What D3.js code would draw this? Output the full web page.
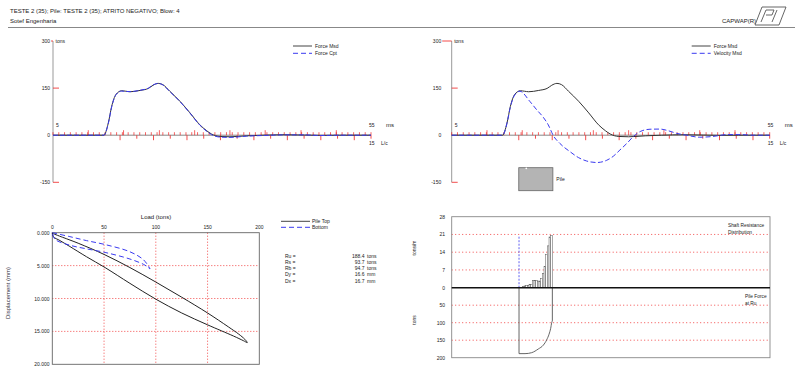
<!DOCTYPE html>
<html>
<head>
<meta charset="utf-8">
<script src="https://cdn.jsdelivr.net/npm/d3@7"></script>
<style>
  body { margin: 0; background: #fff; }
  text { font-family: "Liberation Sans", Arial, sans-serif; fill: #222; }
</style>
</head>
<body>
<svg id="chart" width="800" height="376"></svg>
<script>
// Variables / data
const headerLine = "TESTE 2 (35); Pile: TESTE 2 (35); ATRITO NEGATIVO; Blow: 4";
const company = "Sotef Engenharia";

// top charts: time (ms) and force (tons)
const forceTime = [0, 8.8, 9.56, 10.15, 10.9, 11.88, 12.6, 13.3, 15.05, 16.5, 17.3, 18.2, 19.0, 20.2, 21.96, 23.7, 25.4, 26.6, 27.4, 28.9, 30.6, 33.5, 36.3, 40, 43.5, 46.2, 49.6, 55];
const forceMsd  = [0, 0, 38.6, 92, 130, 141.6, 140, 138.4, 142.6, 149, 159, 165, 161, 140, 108, 71, 33, 14, 4, -4, -5, -2, 0, 1.5, 0.5, -0.5, 0, 0];
const forceCpt  = [0, 0, 37, 90, 129, 140.5, 139.5, 138.8, 143, 150, 160, 165, 160, 139, 107, 70, 32, 12, 2, -6, -7, -3, -1, 1, 1, -1, 0, 0];

const velTime = [0, 8.8, 9.56, 10.15, 10.9, 11.8, 13.5, 14.7, 15.8, 16.7, 17.6, 18.7, 20.5, 21.9, 23.3, 25.1, 26.8, 27.95, 29.1, 30.3, 31.4, 32.6, 34.3, 36.0, 37.5, 38.9, 40.6, 42.9, 45.2, 47.6, 49.9, 52.2, 55];
const velMsd  = [0, 0, 38, 90, 128, 140, 108, 81, 58, 33, -2, -26, -53, -71, -82, -87, -80, -67, -47, -26, -4.5, 11.6, 19, 19.5, 14, 6, 0, -6.4, -4, 2, 2, 0, 0];

const forceTicks = [300, 150, 0, -150];
const msMajor = [6.1, 12.2, 18.4, 24.5, 30.6, 36.7, 42.9, 49.0];
const lcStart = 11.6; // ms at L/c = 0
const lcTicks = d3.range(0, 16);

// bottom-left: load (tons) vs displacement (mm)
const pileTopLoad = [0, 1, 7.4, 17, 33, 51, 75, 100, 125, 150, 175, 184.5, 188.4, 186, 180, 170, 150, 125, 100, 75, 50, 25, 10, 0];
const pileTopDisp = [0, 0.6, 1.2, 2.1, 3.65, 5.3, 7.7, 10.1, 12.2, 14.0, 15.7, 16.4, 16.7, 16.2, 15.4, 14.3, 12.2, 9.8, 7.5, 5.3, 3.3, 1.6, 0.7, 0.1];
const bottomLoad = [0, 17, 33, 51, 75, 88, 94.4, 92, 88, 75, 51, 33, 17, 2.6, 0];
const bottomDisp = [0, 0.6, 1.2, 1.8, 2.9, 4.1, 5.5, 5.2, 4.8, 4.0, 3.0, 2.45, 1.9, 1.0, 0];
const loadTicks = [0, 50, 100, 150, 200];
const dispTicks = [0, 5, 10, 15, 20];

const statLabels = ["Ru =", "Rs =", "Rb =", "Dy =", "Dx ="];
const statValues = ["188.4", "93.7", "94.7", "16.6", "16.7"];
const statUnits = ["tons", "tons", "tons", "mm", "mm"];

// bottom-right: shaft resistance per segment (tons/m) and pile force (tons)
const shaftRes = [0, 0, 0.5, 0.7, 0.9, 0.9, 1.3, 1.3, 2.9, 2.9, 2.9, 2.6, 2.6, 3.6, 5.6, 8.3, 13.2, 16.5, 20.0, 20.5];
const pileForceDepth = [0, 3.6, 7.6, 11.6, 14.6, 16.6, 18, 19, 19.6, 20];
const pileForce = [188.4, 188.4, 185.6, 175, 164, 149, 133, 116, 100, 95];
const resTicks = [0, 7, 14, 21, 28];
const pfTicks = [50, 100, 150, 200];
const pileTopPos = 40.4;
const markerTop = 20.2;

const blue = "#3a3af0";
const red = "#f02020";

let svg = d3.select("#chart");

// Header
function drawHeader() {
  svg.append("text").attr("x", 10).attr("y", 13).attr("font-size", 6).text(headerLine);
  svg.append("text").attr("x", 10).attr("y", 22.5).attr("font-size", 6).text(company);
  svg.append("text").attr("x", 722).attr("y", 22.5).attr("font-size", 6).text("CAPWAP(R)");
  svg.append("line").attr("x1", 8).attr("x2", 795).attr("y1", 27.5).attr("y2", 27.5)
    .attr("stroke", "#888").attr("stroke-width", 1);
  // logo
  let lg = svg.append("g").attr("fill", "none").attr("stroke", "#555").attr("stroke-width", 0.9);
  lg.append("path").attr("d", "M755 25 L762 7 L786 7 L779 25 Z");
  lg.append("path").attr("d", "M761 22 L766 10 L774 10 L772 15 L766 15");
  lg.append("path").attr("d", "M777 10 L772 22");
}

// top charts
const W = 318;
const xT = d3.scaleLinear().domain([0, 55]).range([0, W]);
const yT = d3.scaleLinear().domain([-150, 300]).range([182.3, 41]);
const lcX = d3.scaleLinear().domain([0, 15]).range([xT(lcStart), xT(55)]);

function topPanel(x0, labelGap, series, legend, pile) {
  let g = svg.append("g").attr("transform", "translate(" + x0 + ",0)");
  g.append("line").attr("x1", 0).attr("x2", 0).attr("y1", yT(300)).attr("y2", yT(-150))
    .attr("stroke", "#999").attr("stroke-width", 1);
  forceTicks.forEach(v => {
    g.append("text").attr("x", -labelGap).attr("y", yT(v) + 2).attr("text-anchor", "end")
      .attr("font-size", 5).text(v);
    if (v === 300) {
      g.append("line").attr("x1", -labelGap + 1).attr("x2", 0).attr("y1", yT(v)).attr("y2", yT(v))
        .attr("stroke", red).attr("stroke-width", 0.8);
    } else if (v !== 0) {
      g.append("line").attr("x1", 0).attr("x2", 6).attr("y1", yT(v)).attr("y2", yT(v))
        .attr("stroke", red).attr("stroke-width", 0.8);
    }
  });
  g.append("text").attr("x", 2.5).attr("y", yT(300) + 2).attr("font-size", 5).text("tons");

  // x axis
  g.append("line").attr("x1", 0).attr("x2", W).attr("y1", yT(0)).attr("y2", yT(0))
    .attr("stroke", "#888").attr("stroke-width", 1);
  d3.range(0, 56).forEach(t => {
    g.append("line").attr("x1", xT(t)).attr("x2", xT(t)).attr("y1", yT(0)).attr("y2", yT(0) - 3)
      .attr("stroke", red).attr("stroke-width", 0.7);
  });
  msMajor.forEach(t => {
    g.append("line").attr("x1", xT(t)).attr("x2", xT(t)).attr("y1", yT(0)).attr("y2", yT(0) - 5)
      .attr("stroke", red).attr("stroke-width", 0.7);
  });
  lcTicks.forEach(k => {
    g.append("line").attr("x1", lcX(k)).attr("x2", lcX(k)).attr("y1", yT(0)).attr("y2", yT(0) + (k % 2 ? 3.5 : 5))
      .attr("stroke", red).attr("stroke-width", 0.8);
  });
  g.append("text").attr("x", 3).attr("y", yT(0) - 8).attr("font-size", 5).text("5");
  g.append("text").attr("x", xT(55) - 2).attr("y", yT(0) - 8).attr("font-size", 5).text("55");
  g.append("text").attr("x", xT(55) + 15).attr("y", yT(0) - 8).attr("font-size", 6).text("ms");
  g.append("text").attr("x", xT(55) - 2).attr("y", yT(0) + 10).attr("font-size", 5).text("15");
  g.append("text").attr("x", xT(55) + 10).attr("y", yT(0) + 10).attr("font-size", 5).text("L/c");

  // curves
  series.forEach(s => {
    let line = d3.line().x((d, i) => xT(s.t[i])).y(d => yT(d)).curve(d3.curveMonotoneX);
    g.append("path").attr("d", line(s.v)).attr("fill", "none").attr("stroke", s.color)
      .attr("stroke-width", s.width).attr("stroke-dasharray", s.dash || null);
  });

  // legend
  legend.forEach((l, i) => {
    let y = 46 + i * 7.3;
    g.append("line").attr("x1", 240).attr("x2", 259).attr("y1", y).attr("y2", y)
      .attr("stroke", l.color).attr("stroke-width", 1).attr("stroke-dasharray", l.dash || null);
    g.append("text").attr("x", 262).attr("y", y + 1.7).attr("font-size", 5).text(l.label);
  });

  if (pile) {
    g.append("rect").attr("x", xT(11.6)).attr("y", 167.7).attr("width", xT(17.5) - xT(11.6)).attr("height", 23)
      .attr("fill", "#b4b4b4").attr("stroke", "#666").attr("stroke-width", 0.8);
    g.append("circle").attr("cx", xT(12.9)).attr("cy", 168.3).attr("r", 0.9).attr("fill", "#fff");
    g.append("text").attr("x", xT(18.1)).attr("y", 181).attr("font-size", 5).text("Pile");
  }
}

// bottom-left chart
const xL = d3.scaleLinear().domain([0, 200]).range([52.3, 259.3]);
const yL = d3.scaleLinear().domain([0, 20]).range([232.7, 364.3]);

function loadChart() {
  let g = svg.append("g");
  loadTicks.slice(1, -1).forEach(v => {
    g.append("line").attr("x1", xL(v)).attr("x2", xL(v)).attr("y1", yL(0)).attr("y2", yL(20))
      .attr("stroke", red).attr("stroke-width", 0.8).attr("stroke-dasharray", "1,2");
  });
  dispTicks.slice(1, -1).forEach(v => {
    g.append("line").attr("x1", xL(0)).attr("x2", xL(200)).attr("y1", yL(v)).attr("y2", yL(v))
      .attr("stroke", red).attr("stroke-width", 0.8).attr("stroke-dasharray", "1,2");
  });
  g.append("rect").attr("x", xL(0)).attr("y", yL(0)).attr("width", xL(200) - xL(0)).attr("height", yL(20) - yL(0))
    .attr("fill", "none").attr("stroke", "#666").attr("stroke-width", 0.9);
  loadTicks.forEach(v => {
    g.append("text").attr("x", xL(v)).attr("y", 229).attr("text-anchor", "middle").attr("font-size", 5).text(v);
  });
  dispTicks.forEach(v => {
    g.append("text").attr("x", 49.5).attr("y", yL(v) + 2).attr("text-anchor", "end").attr("font-size", 5).text(v.toFixed(3));
  });
  g.append("text").attr("x", 156).attr("y", 219).attr("text-anchor", "middle").attr("font-size", 6).text("Load (tons)");
  g.append("text").attr("transform", "translate(10,293) rotate(-90)").attr("text-anchor", "middle")
    .attr("font-size", 6).style("fill", "#334").text("Displacement (mm)");

  let line = d3.line().x(d => xL(d[0])).y(d => yL(d[1])).curve(d3.curveCatmullRom.alpha(0.5));
  g.append("path").attr("d", line(pileTopLoad.map((v, i) => [v, pileTopDisp[i]])))
    .attr("fill", "none").attr("stroke", "#222").attr("stroke-width", 1);
  g.append("path").attr("d", line(bottomLoad.map((v, i) => [v, bottomDisp[i]])))
    .attr("fill", "none").attr("stroke", blue).attr("stroke-width", 1).attr("stroke-dasharray", "5,3");

  // legend
  g.append("line").attr("x1", 281).attr("x2", 310).attr("y1", 221.3).attr("y2", 221.3).attr("stroke", "#444").attr("stroke-width", 1);
  g.append("text").attr("x", 312).attr("y", 223).attr("font-size", 5).text("Pile Top");
  g.append("line").attr("x1", 281).attr("x2", 310).attr("y1", 227.3).attr("y2", 227.3).attr("stroke", blue)
    .attr("stroke-width", 1).attr("stroke-dasharray", "5,3");
  g.append("text").attr("x", 312).attr("y", 229).attr("font-size", 5).text("Bottom");

  statLabels.forEach((s, i) => {
    let y = 257.5 + i * 6.25;
    g.append("text").attr("x", 285).attr("y", y).attr("font-size", 5).text(s);
    g.append("text").attr("x", 364.5).attr("y", y).attr("text-anchor", "end").attr("font-size", 5).text(statValues[i]);
    g.append("text").attr("x", 367).attr("y", y).attr("font-size", 5).text(statUnits[i]);
  });
}

// bottom-right chart
const xD = d3.scaleLinear().domain([0, 191]).range([451.7, 770]);
const yR = d3.scaleLinear().domain([0, 28]).range([287.7, 216.7]);
const yF = d3.scaleLinear().domain([0, 200]).range([287.7, 357.7]);

function resistanceChart() {
  let g = svg.append("g");
  resTicks.slice(1, -1).forEach(v => {
    g.append("line").attr("x1", xD(0)).attr("x2", xD(191)).attr("y1", yR(v)).attr("y2", yR(v))
      .attr("stroke", red).attr("stroke-width", 0.8).attr("stroke-dasharray", "1,2.5");
  });
  pfTicks.slice(0, -1).forEach(v => {
    g.append("line").attr("x1", xD(0)).attr("x2", xD(191)).attr("y1", yF(v)).attr("y2", yF(v))
      .attr("stroke", red).attr("stroke-width", 0.8).attr("stroke-dasharray", "1,2.5");
  });
  g.append("rect").attr("x", xD(0)).attr("y", yR(28)).attr("width", xD(191) - xD(0)).attr("height", yF(200) - yR(28))
    .attr("fill", "none").attr("stroke", "#888").attr("stroke-width", 0.9);
  resTicks.forEach(v => {
    g.append("text").attr("x", 445).attr("y", yR(v) + 2).attr("text-anchor", "end").attr("font-size", 5).text(v);
  });
  pfTicks.forEach(v => {
    g.append("text").attr("x", 445).attr("y", yF(v) + 2).attr("text-anchor", "end").attr("font-size", 5).text(v);
  });
  g.append("text").attr("transform", "translate(416,248) rotate(-90)").attr("text-anchor", "middle")
    .attr("font-size", 5).text("tons/m");
  g.append("text").attr("transform", "translate(416,320) rotate(-90)").attr("text-anchor", "middle")
    .attr("font-size", 5).text("tons");
  g.append("text").attr("x", 728).attr("y", 227).attr("font-size", 4.8).text("Shaft Resistance");
  g.append("text").attr("x", 728).attr("y", 233.5).attr("font-size", 4.8).text("Distribution");
  g.append("text").attr("x", 745).attr("y", 298).attr("font-size", 4.8).text("Pile Force");
  g.append("text").attr("x", 745).attr("y", 304.5).attr("font-size", 4.8).text("at Ru");

  // shaft resistance bars
  let segW = xD(1) - xD(0);
  g.selectAll("rect.seg").data(shaftRes).enter().append("rect").attr("class", "seg")
    .attr("x", (d, i) => xD(pileTopPos + i))
    .attr("y", d => yR(d))
    .attr("width", segW)
    .attr("height", d => yR(0) - yR(d))
    .attr("fill", "#fff").attr("stroke", "#555").attr("stroke-width", 0.5);

  g.append("line").attr("x1", xD(pileTopPos)).attr("x2", xD(pileTopPos)).attr("y1", yR(0)).attr("y2", yR(markerTop))
    .attr("stroke", blue).attr("stroke-width", 0.8).attr("stroke-dasharray", "2,1.5");

  // pile force
  let pf = d3.line().x((d, i) => xD(pileTopPos + pileForceDepth[i])).y(d => yF(d)).curve(d3.curveMonotoneX);
  g.append("path").attr("d", pf(pileForce)).attr("fill", "none").attr("stroke", "#555").attr("stroke-width", 0.9);
  g.append("line").attr("x1", xD(pileTopPos)).attr("x2", xD(pileTopPos)).attr("y1", yF(0)).attr("y2", yF(pileForce[0]))
    .attr("stroke", "#555").attr("stroke-width", 0.9);
  let toe = pileTopPos + pileForceDepth[pileForceDepth.length - 1];
  g.append("line").attr("x1", xD(toe)).attr("x2", xD(toe)).attr("y1", yF(0)).attr("y2", yF(pileForce[pileForce.length - 1]))
    .attr("stroke", "#555").attr("stroke-width", 0.9);

  g.append("line").attr("x1", xD(0)).attr("x2", xD(191)).attr("y1", yR(0)).attr("y2", yR(0))
    .attr("stroke", "#111").attr("stroke-width", 1.5);
}

drawHeader();
topPanel(53, 3, [
  { t: forceTime, v: forceMsd, color: "#333", width: 1 },
  { t: forceTime, v: forceCpt, color: blue, width: 1, dash: "5,2" }
], [
  { label: "Force Msd", color: "#444" },
  { label: "Force Cpt", color: blue, dash: "5,3" }
], false);
topPanel(451.7, 10.5, [
  { t: forceTime, v: forceMsd, color: "#333", width: 1 },
  { t: velTime, v: velMsd, color: blue, width: 1, dash: "5,2.5" }
], [
  { label: "Force Msd", color: "#444" },
  { label: "Velocity Msd", color: blue, dash: "5,3" }
], true);
loadChart();
resistanceChart();
</script>
</body>
</html>
